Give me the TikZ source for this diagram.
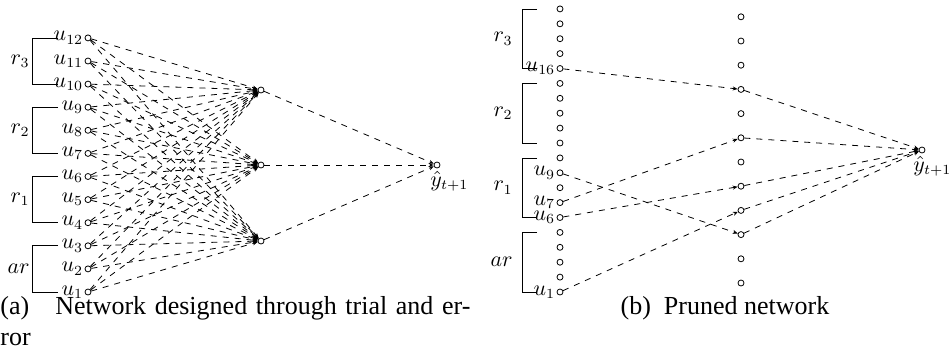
\documentclass[tikz,border=0pt]{standalone}
\usepackage{amsmath}
\usepackage{fontspec}
\newfontfamily\capfont{Liberation Serif}
\usetikzlibrary{arrows.meta,positioning,calc}

\begin{document}
\begin{tikzpicture}[x=0.5pt, y=-0.5pt,
  neuron/.style={circle, draw, inner sep=0pt, minimum size=3pt, line width=0.4pt},
  link/.style={dashed, line width=0.4pt, -{Stealth[length=2.5pt, width=2pt]}},
  lab/.style={font=\fontsize{10.5}{12}\selectfont, inner sep=0.5pt},
  grp/.style={line width=0.4pt},
  captxt/.style={font=\capfont\fontsize{13}{15.5}\selectfont, inner sep=0pt}]
  \useasboundingbox (0,0) rectangle (950,360);

  % (a) network designed through trial and error
  \foreach \i in {1,...,12} {
    \node[neuron] (a\i) at (88,{292-(\i-1)*23.1}) {};
    \node[lab, anchor=east] at (a\i.west) {$u_{\i}$};
  }
  \foreach \j/\yy in {1/241,2/165,3/90}
    \node[neuron] (ah\j) at (261,\yy) {};
  \node[neuron] (ay) at (437,165) {};
  \node[lab, anchor=north west] at ($(ay.south)+(-8,1)$) {$\hat{y}_{t+1}$};
  \foreach \i in {1,...,12}
    \foreach \j in {1,2,3}
      \draw[link] (a\i) -- (ah\j);
  \foreach \j in {1,2,3}
    \draw[link] (ah\j) -- (ay);
  \foreach \lo/\hi/\g in {1/3/ar,4/6/r_1,7/9/r_2,10/12/r_3} {
    \draw[grp] ($(a\hi)+(-30,0)$) -- ($(a\hi)+(-56,0)$) -- ($(a\lo)+(-56,0)$) -- ($(a\lo)+(-30,0)$);
    \node[lab, anchor=east] at ($(a\lo)!0.5!(a\hi)+(-57,0)$) {$\g$};
  }

  % (b) pruned network
  \foreach \i in {1,...,20}
    \node[neuron] (b\i) at (560,{292-(\i-1)*14.9}) {};
  \foreach \i in {1,6,7,9,16}
    \node[lab, anchor=east] at (b\i.west) {$u_{\i}$};
  \foreach \j in {1,...,12}
    \node[neuron] (bh\j) at (741,{283-(\j-1)*24.2}) {};
  \node[neuron] (by) at (922,150) {};
  \node[lab, anchor=north west] at ($(by.south)+(-10,1)$) {$\hat{y}_{t+1}$};
  \foreach \i/\j in {16/9,9/3,7/7,6/5,1/4}
    \draw[link] (b\i) -- (bh\j);
  \foreach \j in {9,7,5,4,3}
    \draw[link] (bh\j) -- (by);
  \foreach \lo/\hi/\g in {1/5/ar,6/10/r_1,11/15/r_2,16/20/r_3} {
    \draw[grp] ($(b\hi)+(-23,0)$) -- ($(b\hi)+(-38,0)$) -- ($(b\lo)+(-38,0)$) -- ($(b\lo)+(-23,0)$);
    \node[lab, anchor=east] at ($(b\lo)!0.5!(b\hi)+(-46,0)$) {$\g$};
  }

  % captions
  \node[captxt, anchor=base west] (capa) at (0,314) {\makebox[235pt][s]{(a)\quad Network designed through trial and er-}};
  \node[captxt, anchor=base west] (capa2) at (0,345) {ror};
  \node[captxt, anchor=base] (capb) at (725,314) {(b)\enspace Pruned network};
\end{tikzpicture}
\end{document}
